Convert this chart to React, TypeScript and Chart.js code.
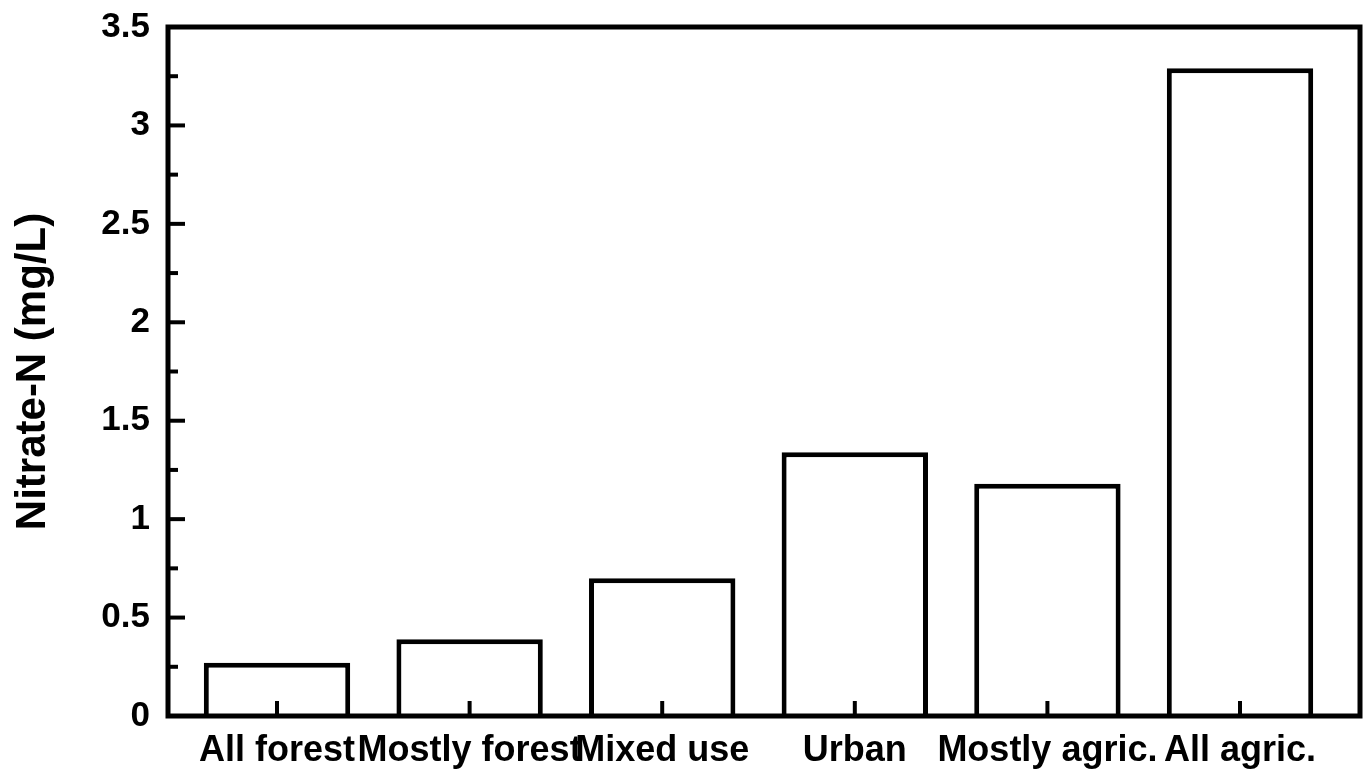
import React, { useEffect, useRef } from "react";
import { Chart, registerables } from "chart.js";

Chart.register(...registerables);

const CATEGORIES = ["All forest", "Mostly forest", "Mixed use", "Urban", "Mostly agric.", "All agric."];
const NITRATE_N = [0.27, 0.39, 0.70, 1.34, 1.18, 3.29];
const Y_MAJOR_TICKS = [0, 0.5, 1, 1.5, 2, 2.5, 3, 3.5];
const Y_MINOR_TICKS = [0.25, 0.75, 1.25, 1.75, 2.25, 2.75, 3.25];
const Y_TITLE = "Nitrate-N (mg/L)";

const FONT = "'Liberation Sans', Arial, Helvetica, sans-serif";

const framePlugin = {
  id: "frameTicks",
  afterDatasetsDraw(chart: any) {
    const { ctx, chartArea, scales } = chart;
    const { left, right, top, bottom } = chartArea;
    const y = scales.y;
    const x = scales.x;
    ctx.save();
    ctx.strokeStyle = "#000";
    ctx.lineCap = "butt";
    ctx.lineWidth = 4;
    Y_MAJOR_TICKS.forEach((v) => {
      const py = y.getPixelForValue(v);
      ctx.beginPath();
      ctx.moveTo(left, py);
      ctx.lineTo(left + 17, py);
      ctx.stroke();
    });
    Y_MINOR_TICKS.forEach((v) => {
      const py = y.getPixelForValue(v);
      ctx.beginPath();
      ctx.moveTo(left, py);
      ctx.lineTo(left + 10, py);
      ctx.stroke();
    });
    CATEGORIES.forEach((_, i) => {
      const px = x.getPixelForValue(i + 1);
      ctx.beginPath();
      ctx.moveTo(px, bottom);
      ctx.lineTo(px, bottom - 15);
      ctx.stroke();
    });
    ctx.lineWidth = 5;
    ctx.lineJoin = "miter";
    ctx.strokeRect(left, top, right - left, bottom - top);
    ctx.restore();
  },
};

export default function App() {
  const canvasRef = useRef<HTMLCanvasElement | null>(null);

  useEffect(() => {
    const canvas = canvasRef.current;
    if (!canvas) return;
    const chart = new Chart(canvas, {
      type: "bar",
      data: {
        datasets: [
          {
            label: "Nitrate-N",
            data: NITRATE_N.map((v, i) => ({ x: i + 1, y: v })),
            backgroundColor: "#ffffff",
            borderColor: "#000000",
            borderWidth: 5,
            borderSkipped: "bottom",
            barPercentage: 0.76,
            categoryPercentage: 1,
          },
        ],
      },
      options: {
        responsive: false,
        animation: false,
        layout: { padding: { top: 27, right: 11, bottom: 0, left: 0 } },
        plugins: {
          legend: { display: false },
          tooltip: { enabled: false },
        },
        scales: {
          x: {
            type: "linear",
            offset: false,
            bounds: "data",
            min: 0.434,
            max: 6.623,
            grid: { display: false, drawTicks: false, offset: false },
            border: { display: false },
            afterBuildTicks: (scale: any) => {
              scale.ticks = CATEGORIES.map((_, i) => ({ value: i + 1 }));
            },
            afterFit: (scale: any) => {
              scale.height = 67;
              scale.paddingLeft = 0;
              scale.paddingRight = 0;
            },
            ticks: {
              autoSkip: false,
              maxRotation: 0,
              minRotation: 0,
              padding: 13,
              color: "#000",
              font: { family: FONT, size: 36, weight: "bold" },
              callback: (value: any) => CATEGORIES[Math.round(Number(value)) - 1] ?? "",
            },
          },
          y: {
            type: "linear",
            min: 0,
            max: 3.5,
            grid: { display: false, drawTicks: false },
            border: { display: false },
            afterFit: (scale: any) => {
              scale.width = 168;
              scale.paddingTop = 0;
              scale.paddingBottom = 0;
            },
            ticks: {
              stepSize: 0.5,
              padding: 18,
              color: "#000",
              font: { family: FONT, size: 35, weight: "bold" },
              callback: (value: any) => String(value),
            },
            title: {
              display: true,
              text: Y_TITLE,
              color: "#000",
              padding: { top: 8, bottom: 0 },
              font: { family: FONT, size: 42, weight: "bold" },
            },
          },
        },
      },
      plugins: [framePlugin],
    } as any);
    return () => chart.destroy();
  }, []);

  return (
    <div style={{ position: "fixed", left: 0, top: 0, width: 1371, height: 783, background: "#fff" }}>
      <canvas ref={canvasRef} width={1371} height={783} style={{ display: "block" }} />
    </div>
  );
}
